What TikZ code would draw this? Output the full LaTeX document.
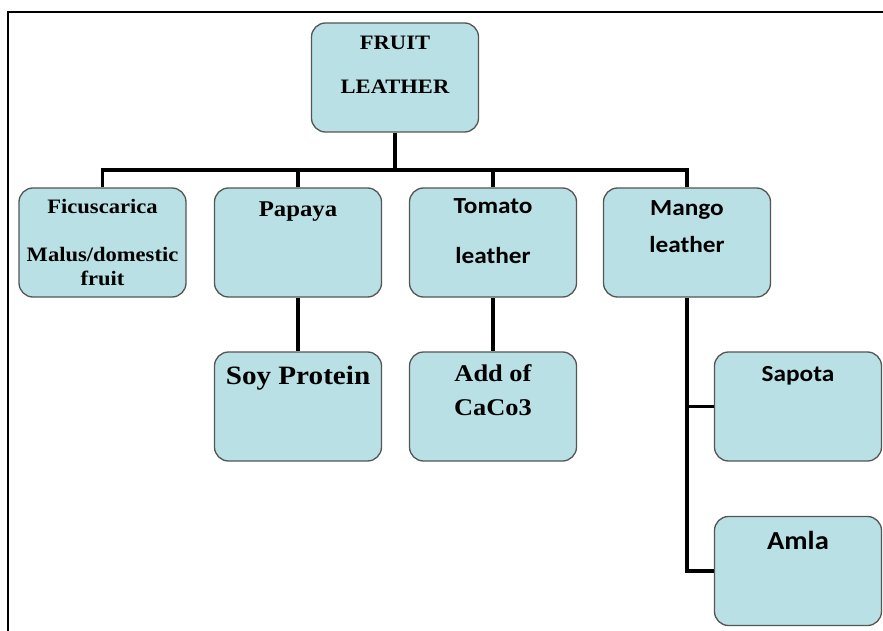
\documentclass[tikz,border=0pt]{standalone}
\usepackage{fontspec}
\setmainfont{Liberation Serif}[FakeStretch=1.1]
\newfontfamily\calfont{Carlito}[FakeStretch=1.1]
\usepackage{tikz}
\definecolor{boxfill}{RGB}{185,224,228}
\definecolor{boxline}{RGB}{85,85,85}

\begin{document}
\begin{tikzpicture}[x=1pt,y=-1pt,
  box/.style={draw=boxline, fill=boxfill, line width=1.3pt, rounded corners=14pt,
    minimum width=167pt, minimum height=109pt, inner sep=0pt},
  conn/.style={line width=3.5pt},
  rmtext/.style={align=center, anchor=base, inner sep=0pt},
  sftext/.style={align=center, anchor=base, inner sep=0pt}]
\useasboundingbox (0,0) rectangle (883,631);
\draw[line width=2pt] (8,631) -- (8,12) -- (883,12);

% boxes
\node[box] (root) at (395,77.5) {};
\node[box] (fic) at (102.5,242.5) {};
\node[box] (pap) at (298,242.5) {};
\node[box] (tom) at (493,242.5) {};
\node[box] (man) at (687,242.5) {};
\node[box] (soy) at (298,406.5) {};
\node[box] (cac) at (493,406.5) {};
\node[box] (sap) at (798,406.5) {};
\node[box] (aml) at (798,571) {};

% texts (placed at the baseline of their last line)
\node[rmtext, font=\fontsize{20.5}{44}\selectfont\bfseries] (roott) at (395,94) {FRUIT\\LEATHER};
\node[rmtext, font=\fontsize{20.5}{24}\selectfont\bfseries] (fict) at (102.5,285) {Ficuscarica\\[24pt]Malus/domestic\\fruit};
\node[rmtext, font=\fontsize{22.5}{26}\selectfont\bfseries] (papt) at (298,216) {Papaya};
\node[sftext, font=\fontsize{23}{50}\selectfont\calfont\bfseries] (tomt) at (493,263) {Tomato\\leather};
\node[sftext, font=\fontsize{23}{37}\selectfont\calfont\bfseries] (mant) at (687,252) {Mango\\leather};
\node[rmtext, font=\fontsize{26.5}{30}\selectfont\bfseries] (soyt) at (298,384) {Soy Protein};
\node[rmtext, font=\fontsize{24}{34}\selectfont\bfseries] (cact) at (493,415) {Add of\\CaCo3};
\node[sftext, font=\fontsize{23}{26}\selectfont\calfont\bfseries] (sapt) at (798,381) {Sapota};
\node[sftext, font=\fontsize{26}{30}\selectfont\calfont\bfseries] (amlt) at (798,549) {Amla};

% connectors
\coordinate (bus) at (395,170);
\draw[conn] (root.south) -- (bus);
\draw[conn] (fic.north) |- (bus) -| (man.north);
\draw[conn] (pap.north) -- (pap.north |- bus);
\draw[conn] (tom.north) -- (tom.north |- bus);
\draw[conn] (pap.south) -- (soy.north);
\draw[conn] (tom.south) -- (cac.north);
\draw[conn] (man.south) |- (aml.west);
\draw[conn] (man.south |- sap.west) -- (sap.west);
\end{tikzpicture}
\end{document}
